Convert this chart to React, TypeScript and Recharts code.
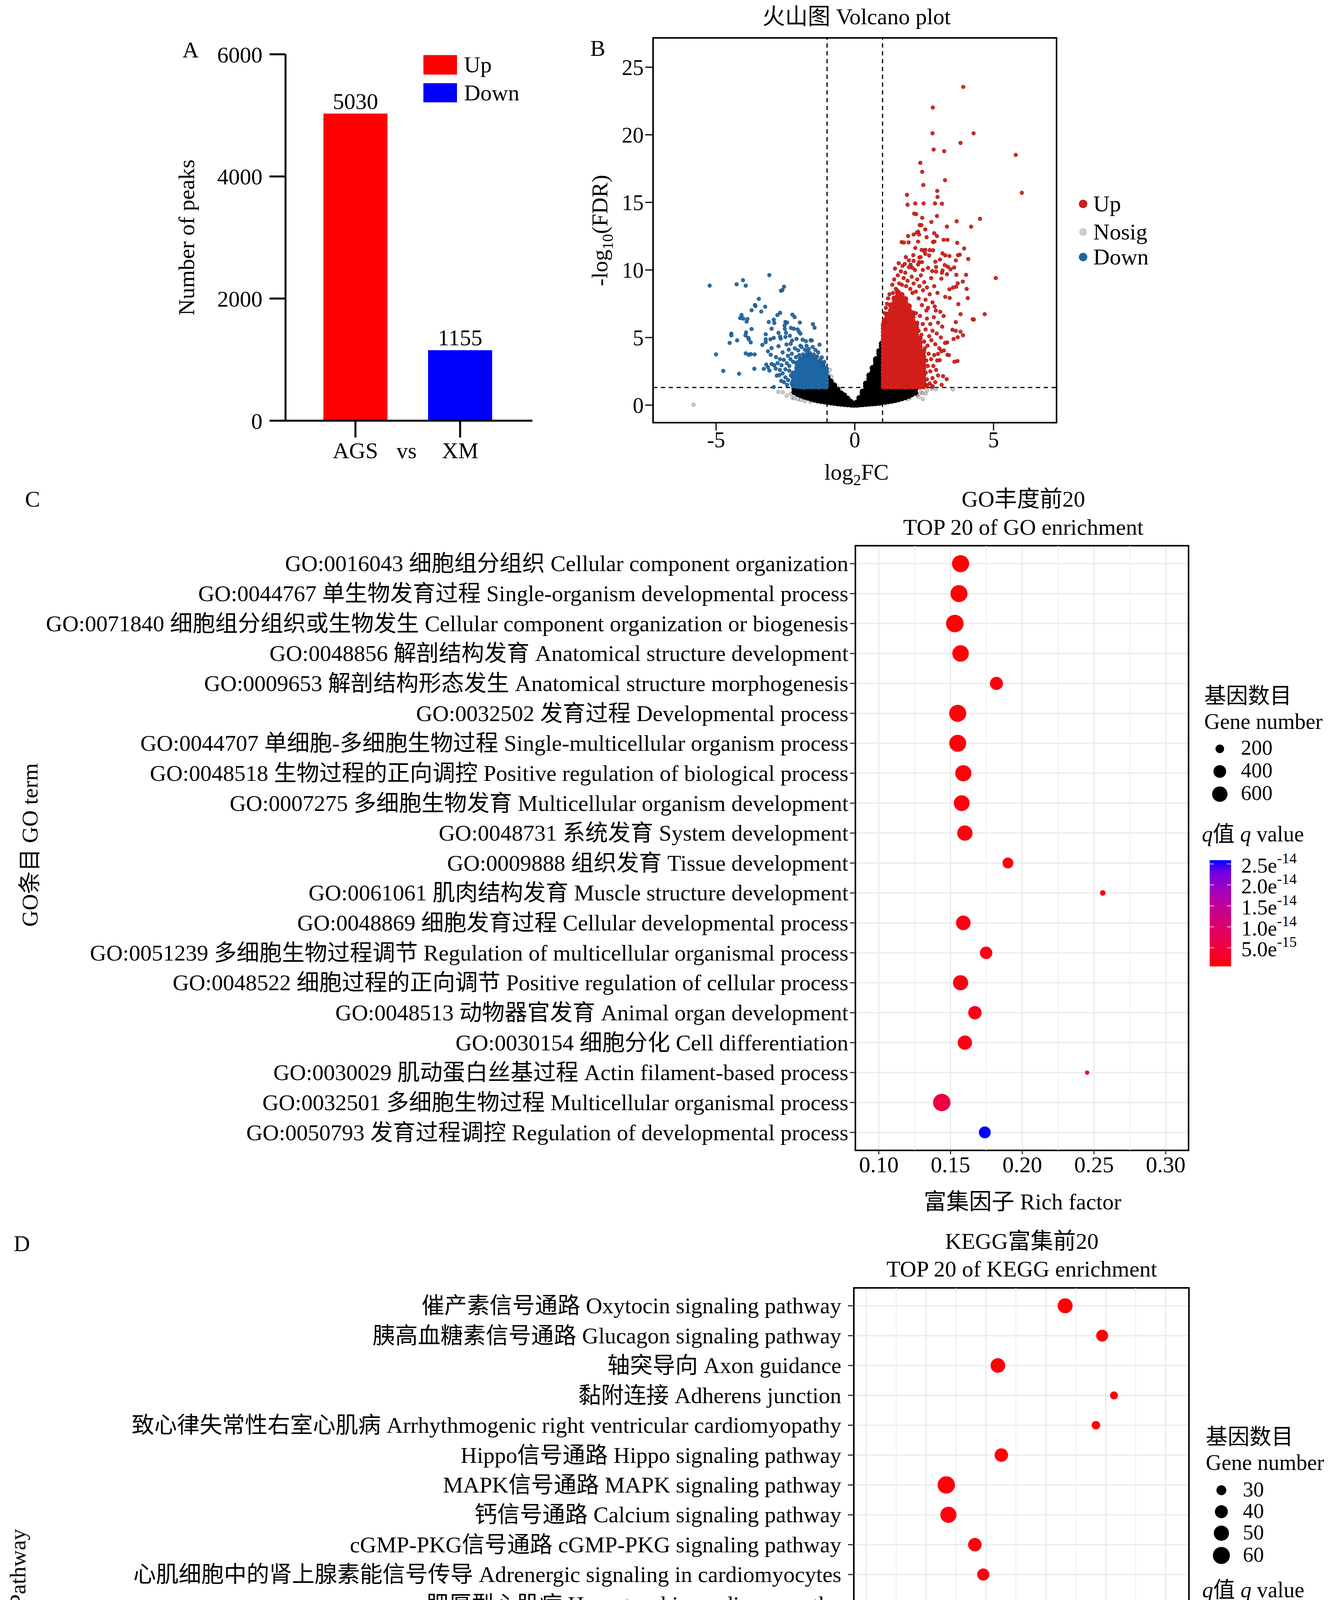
import React from 'react';
import {
  Bar,
  BarChart,
  CartesianGrid,
  Cell,
  LabelList,
  ReferenceArea,
  ReferenceLine,
  Scatter,
  ScatterChart,
  XAxis,
  YAxis,
} from 'recharts';

const FONT = '"Liberation Serif", "Times New Roman", "Noto Sans CJK SC", serif';

// ---------- A: number of peaks
const PEAK_GROUPS = ['AGS', 'XM'];
const PEAK_COUNTS = [5030, 1155];
const PEAK_TYPES = ['Up', 'Down'];
const PEAK_TICKS = [0, 2000, 4000, 6000];
const PEAK_COLORS: Record<string, string> = { Up: '#ff0000', Down: '#0000ff' };

// ---------- B: volcano (log2FC, -log10 FDR)
const VOLCANO_X_TICKS = [-5, 0, 5];
const VOLCANO_Y_TICKS = [0, 5, 10, 15, 20, 25];
const FC_CUT = 1;
const FDR_CUT = 1.301;

// dense block of up genes, one column per log2FC value
const UP_CORE: [number, number[]][] = [
  [1.04, [1.37, 1.63, 1.9, 2.18, 2.44, 2.71, 2.97, 3.25, 3.52, 3.78, 4.05, 4.33, 4.6, 4.86, 5.13, 5.4, 5.66, 5.9]],
  [1.17, [1.39, 1.65, 1.92, 2.2, 2.46, 2.73, 3.0, 3.27, 3.53, 3.8, 4.08, 4.35, 4.62, 4.88, 5.15, 5.42, 5.7, 5.96, 6.22, 6.48, 6.7]],
  [1.3, [1.36, 1.62, 1.9, 2.16, 2.43, 2.7, 2.98, 3.24, 3.5, 3.78, 4.05, 4.31, 4.58, 4.85, 5.12, 5.4, 5.66, 5.93, 6.2, 6.46, 6.73, 7.0, 7.38]],
  [1.43, [1.38, 1.64, 1.91, 2.19, 2.45, 2.72, 3.0, 3.26, 3.53, 3.8, 4.06, 4.34, 4.6, 4.87, 5.15, 5.41, 5.68, 5.95, 6.22, 6.5, 6.76, 7.03, 7.3, 7.58, 7.9]],
  [1.56, [1.37, 1.63, 1.9, 2.17, 2.44, 2.7, 2.97, 3.24, 3.51, 3.79, 4.05, 4.32, 4.6, 4.86, 5.13, 5.4, 5.67, 5.94, 6.21, 6.48, 6.75, 7.02, 7.3, 7.56, 7.84, 8.1, 8.32]],
  [1.69, [1.39, 1.66, 1.92, 2.2, 2.47, 2.73, 3.0, 3.28, 3.55, 3.82, 4.1, 4.36, 4.63, 4.9, 5.17, 5.44, 5.71, 5.98, 6.25, 6.52, 6.8, 7.07, 7.34, 7.6, 7.88, 8.15]],
  [1.82, [1.36, 1.63, 1.9, 2.16, 2.43, 2.7, 2.98, 3.25, 3.52, 3.79, 4.06, 4.33, 4.6, 4.87, 5.14, 5.41, 5.68, 5.95, 6.22, 6.5, 6.77, 7.04, 7.31, 7.58, 7.85]],
  [1.95, [1.38, 1.65, 1.92, 2.19, 2.46, 2.73, 3.0, 3.27, 3.54, 3.81, 4.08, 4.35, 4.62, 4.89, 5.16, 5.43, 5.7, 5.97, 6.24, 6.51, 6.78, 7.05, 7.32]],
  [2.08, [1.37, 1.64, 1.91, 2.18, 2.45, 2.72, 2.99, 3.26, 3.53, 3.8, 4.07, 4.34, 4.61, 4.88, 5.15, 5.42, 5.69, 5.96, 6.23, 6.5, 6.8]],
  [2.21, [1.39, 1.66, 1.93, 2.2, 2.47, 2.74, 3.01, 3.28, 3.55, 3.82, 4.09, 4.36, 4.63, 4.9, 5.17, 5.44, 5.71, 5.98]],
  [2.34, [1.36, 1.63, 1.9, 2.17, 2.44, 2.71, 2.98, 3.25, 3.52, 3.79, 4.06, 4.33, 4.6, 4.92]],
  [2.47, [1.38, 1.65, 1.92, 2.19, 2.46, 2.73, 3.0, 3.3, 3.6, 3.95]],
];

const UP_SPARSE: [number, number][] = [
  [3.91, 23.54], [2.81, 22.02], [2.8, 20.11], [4.28, 20.11],
  [3.81, 19.4], [2.84, 18.91], [3.22, 18.79], [5.8, 18.51], [2.36, 17.93], [2.43, 17.26], [3.25, 16.64], [2.47, 16.29],
  [2.97, 15.85], [6.02, 15.71], [2.98, 15.4], [1.88, 15.56], [1.9, 14.83], [2.18, 14.92], [2.48, 14.92], [2.89, 14.92],
  [3.14, 14.9], [2.14, 14.17], [2.21, 14.13], [2.43, 13.86], [2.96, 13.99], [2.76, 13.55], [3.67, 13.6], [4.51, 13.78],
  [4.19, 13.2], [3.32, 13.21], [2.34, 13.32], [2.4, 13.32], [2.54, 13.0], [2.28, 12.83], [2.24, 12.77], [2.32, 12.62],
  [2.12, 12.62], [1.92, 12.51], [2.59, 12.42], [2.86, 12.72], [2.96, 12.51], [3.2, 12.23], [3.34, 12.23], [3.69, 12.01],
  [1.69, 12.06], [1.77, 12.03], [1.94, 12.04], [2.28, 12.1], [2.82, 12.07], [2.87, 12.1], [3.94, 11.59], [2.18, 11.63],
  [2.41, 11.49], [2.54, 11.49], [2.7, 11.47], [2.82, 11.46], [2.5, 11.4], [3.16, 11.22], [3.26, 11.08], [3.41, 11.03],
  [3.72, 11.09], [3.78, 11.13], [4.09, 10.81], [1.84, 10.95], [2.11, 11.09], [2.33, 10.93], [2.37, 10.95], [2.54, 11.19],
  [2.68, 11.07], [1.95, 10.71], [2.12, 10.67], [2.32, 10.59], [2.42, 10.58], [2.9, 10.61], [3.07, 10.77], [3.64, 10.71],
  [1.8, 10.44], [2.01, 10.39], [2.08, 10.15], [2.64, 10.15], [2.93, 10.22], [3.24, 10.36], [3.35, 10.24], [3.45, 10.05],
  [3.58, 10.18], [3.16, 9.96], [3.14, 9.79], [4.01, 9.64], [3.66, 9.64], [3.32, 9.68], [3.12, 9.35], [2.79, 9.92],
  [2.93, 9.88], [3.89, 9.14], [3.71, 9.01], [3.65, 8.76], [3.54, 8.7], [3.41, 8.57], [4.03, 8.6], [4.07, 7.92],
  [3.26, 8.01], [3.42, 7.93], [3.73, 7.47], [5.08, 9.4], [4.68, 6.73], [4.25, 6.35], [4.29, 6.33], [3.81, 6.73],
  [3.64, 6.14], [3.52, 5.57], [3.64, 5.5], [3.81, 5.43], [3.9, 5.17], [3.71, 5.02], [3.56, 4.89], [3.33, 4.63],
  [3.59, 3.21], [3.7, 3.26], [3.31, 1.92], [3.18, 2.14], [3.13, 1.5], [2.8, 1.4], [3.06, 3.32], [3.34, 3.72],
  [3.39, 3.7], [3.21, 4.04], [3.12, 3.99], [3.0, 3.79],
  [1.35, 8.9], [1.42, 9.3], [1.48, 8.6], [1.55, 9.6], [1.6, 9.0], [1.66, 9.9], [1.7, 8.9], [1.76, 9.4], [1.82, 9.8],
  [1.85, 8.8], [1.9, 9.2], [1.95, 10.2], [2.0, 8.6], [2.05, 9.5], [2.08, 8.3], [2.12, 9.0], [2.17, 10.0], [2.2, 8.4],
  [2.25, 9.3], [2.3, 7.9], [2.33, 8.8], [2.38, 9.6], [2.42, 7.4], [2.46, 8.5], [2.5, 9.1], [2.55, 7.8], [2.6, 8.7],
  [2.64, 7.2], [2.7, 8.2], [2.75, 9.4], [2.8, 7.6], [2.86, 8.8], [2.92, 7.0], [2.98, 8.3], [1.45, 10.1], [1.58, 10.5],
  [1.72, 10.3], [2.28, 10.4], [2.45, 10.0], [1.38, 8.3], [1.52, 8.5],
  [2.2, 6.8], [2.25, 6.1], [2.3, 5.5], [2.35, 6.6], [2.4, 5.2], [2.45, 6.0], [2.5, 4.7], [2.55, 5.6], [2.6, 6.4],
  [2.62, 4.4], [2.68, 5.1], [2.72, 6.0], [2.76, 4.8], [2.8, 5.5], [2.85, 6.5], [2.9, 4.5], [2.95, 5.3], [3.0, 6.1],
  [3.05, 4.2], [3.1, 5.0], [3.15, 5.8], [3.2, 6.6], [3.25, 4.6], [2.58, 7.0], [2.88, 7.3], [3.08, 6.9],
  [2.55, 1.5], [2.56, 2.4], [2.58, 3.3], [2.6, 1.9], [2.63, 2.9], [2.66, 3.8], [2.7, 1.6], [2.72, 2.5], [2.75, 3.4],
  [2.8, 2.0], [2.83, 2.9], [2.86, 3.7], [2.9, 1.7], [2.93, 2.6], [2.97, 3.3], [3.0, 2.2], [2.52, 4.2], [2.6, 1.45],
  [2.78, 1.35], [1.05, 6.3], [1.08, 6.8], [1.12, 7.2], [1.16, 7.5], [1.2, 7.9], [1.25, 8.2], [1.1, 6.1], [1.03, 6.1],
];

const DOWN_CORE: [number, number[]][] = [
  [-1.04, [1.37, 1.64, 1.91, 2.18, 2.45, 2.7]],
  [-1.17, [1.39, 1.66, 1.93, 2.2, 2.47, 2.74, 2.95]],
  [-1.3, [1.36, 1.63, 1.9, 2.17, 2.44, 2.71, 2.98, 3.15]],
  [-1.43, [1.38, 1.65, 1.92, 2.19, 2.46, 2.73, 3.0, 3.3]],
  [-1.56, [1.37, 1.64, 1.91, 2.18, 2.45, 2.72, 2.99, 3.26, 3.5]],
  [-1.69, [1.39, 1.66, 1.93, 2.2, 2.47, 2.74, 3.01, 3.28, 3.6]],
  [-1.82, [1.36, 1.63, 1.9, 2.17, 2.44, 2.71, 2.98, 3.25, 3.55]],
  [-1.95, [1.38, 1.65, 1.92, 2.19, 2.46, 2.73, 3.0, 3.38]],
  [-2.08, [1.4, 1.67, 1.94, 2.21, 2.48, 2.75, 3.1]],
  [-2.21, [1.45, 1.75, 2.05, 2.35]],
];

const DOWN_SPARSE: [number, number][] = [
  [-5.23, 8.84], [-4.26, 8.94], [-4.03, 9.24], [-3.93, 8.84], [-3.08, 9.62], [-2.66, 8.46], [-2.61, 8.51], [-2.55, 8.76],
  [-3.46, 7.86], [-3.6, 7.41], [-3.58, 7.33], [-3.23, 7.28], [-3.72, 7.02], [-3.37, 6.92], [-4.08, 6.66], [-4.13, 6.44],
  [-4.02, 6.4], [-3.87, 6.37], [-3.9, 6.18], [-3.72, 5.63], [-3.92, 5.38], [-3.94, 5.16], [-4.45, 5.28], [-4.45, 5.16],
  [-4.24, 4.79], [-3.84, 4.97], [-3.82, 4.87], [-3.75, 4.64], [-4.51, 4.6], [-5.0, 3.75], [-3.93, 3.83], [-3.82, 3.72],
  [-3.75, 3.77], [-3.61, 3.75], [-4.74, 2.53], [-4.17, 2.32], [-3.62, 2.69], [-3.28, 2.68], [-2.92, 1.34], [-2.79, 6.66],
  [-2.69, 6.83], [-2.25, 6.69], [-2.17, 6.51], [-1.98, 6.11], [-1.51, 5.99], [-1.45, 5.72], [-3.1, 6.15], [-2.92, 6.32],
  [-2.9, 6.08], [-3.0, 5.65], [-3.21, 5.24], [-3.21, 4.87], [-3.21, 4.66], [-3.04, 4.87], [-2.92, 4.97], [-3.33, 4.46],
  [-2.5, 6.15], [-2.44, 6.11], [-2.53, 5.89], [-2.52, 5.64], [-2.3, 5.71], [-2.2, 5.65], [-2.06, 5.6], [-2.01, 5.42],
  [-1.96, 5.29], [-2.75, 5.35], [-2.69, 5.06], [-2.48, 5.35], [-2.34, 5.13], [-2.67, 4.92], [-2.5, 5.04], [-2.26, 4.78],
  [-2.1, 4.9], [-1.88, 4.84], [-1.76, 4.73], [-1.59, 4.8], [-1.55, 4.78], [-1.27, 4.47], [-1.42, 4.08], [-1.74, 4.39],
  [-1.96, 4.39], [-2.31, 4.54], [-2.46, 4.49], [-2.75, 4.36], [-3.0, 4.22], [-3.13, 3.98], [-3.03, 3.72], [-2.84, 3.55],
  [-3.19, 3.0], [-3.0, 3.04], [-2.91, 2.95], [-3.13, 2.8], [-3.08, 2.56], [-2.81, 2.18], [-2.65, 1.79], [-2.72, 2.22],
  [-1.19, 3.53], [-1.24, 3.24], [-1.13, 3.04],
  [-1.25, 3.35], [-1.32, 3.9], [-1.36, 3.6], [-1.48, 3.75], [-1.52, 4.3], [-1.62, 3.85], [-1.66, 4.15], [-1.72, 3.9],
  [-1.8, 4.1], [-1.86, 3.75], [-1.92, 4.3], [-2.0, 3.7], [-2.04, 4.05], [-2.12, 3.55], [-2.16, 4.2], [-2.22, 3.2],
  [-2.27, 3.8], [-2.32, 3.4], [-2.36, 2.9], [-2.41, 3.65], [-2.45, 3.1], [-2.5, 2.65], [-2.56, 3.35], [-2.6, 2.35],
  [-2.64, 2.95], [-2.3, 2.2], [-2.4, 1.85], [-2.5, 2.05], [-2.28, 1.6], [-2.36, 2.55], [-2.44, 1.5], [-2.55, 1.7],
  [-2.7, 2.6], [-2.78, 3.1], [-2.85, 2.7], [-1.1, 3.2], [-1.16, 2.95], [-1.42, 3.55], [-1.58, 3.7], [-1.75, 3.65],
  [-2.6, 3.9], [-2.7, 3.4], [-2.38, 4.1],
];

const NOSIG_CORE: [number, number[]][] = [
  [-2.18, [0.95, 1.2]],
  [-2.06, [0.82, 1.08]],
  [-1.94, [0.72, 0.98, 1.24]],
  [-1.82, [0.62, 0.88, 1.14]],
  [-1.7, [0.55, 0.8, 1.06, 1.28]],
  [-1.58, [0.47, 0.73, 0.99, 1.25]],
  [-1.46, [0.4, 0.66, 0.92, 1.18]],
  [-1.34, [0.34, 0.6, 0.86, 1.12, 1.28]],
  [-1.22, [0.3, 0.56, 0.82, 1.08, 1.27]],
  [-1.1, [0.26, 0.52, 0.78, 1.04, 1.26]],
  [-0.98, [0.22, 0.48, 0.74, 1.0, 1.26, 1.52, 1.78, 2.05]],
  [-0.86, [0.19, 0.45, 0.71, 0.97, 1.23, 1.49, 1.75]],
  [-0.74, [0.16, 0.42, 0.68, 0.94, 1.2, 1.46]],
  [-0.62, [0.12, 0.38, 0.64, 0.9, 1.16]],
  [-0.5, [0.1, 0.34, 0.6, 0.88]],
  [-0.38, [0.07, 0.3, 0.55, 0.72]],
  [-0.26, [0.05, 0.27, 0.48]],
  [-0.14, [0.03, 0.24]],
  [-0.04, [0.02, 0.1]],
  [0.06, [0.02, 0.18]],
  [0.16, [0.04, 0.28, 0.52]],
  [0.28, [0.06, 0.32, 0.58, 0.84, 1.0]],
  [0.4, [0.08, 0.34, 0.6, 0.86, 1.12, 1.38, 1.6]],
  [0.52, [0.1, 0.36, 0.62, 0.88, 1.14, 1.4, 1.66, 1.92, 2.2]],
  [0.64, [0.12, 0.38, 0.64, 0.9, 1.16, 1.42, 1.68, 1.94, 2.2, 2.46, 2.75]],
  [0.76, [0.14, 0.4, 0.66, 0.92, 1.18, 1.44, 1.7, 1.96, 2.22, 2.48, 2.74, 3.0, 3.26, 3.4]],
  [0.88, [0.17, 0.43, 0.69, 0.95, 1.21, 1.47, 1.73, 1.99, 2.25, 2.51, 2.77, 3.03, 3.29, 3.55, 3.81, 4.0]],
  [0.97, [0.2, 0.46, 0.72, 0.98, 1.24, 1.5, 1.76, 2.02, 2.28, 2.54, 2.8, 3.06, 3.32, 3.58, 3.84, 4.1, 4.36, 4.55]],
  [1.1, [0.24, 0.5, 0.76, 1.02, 1.26]],
  [1.22, [0.28, 0.54, 0.8, 1.06, 1.28]],
  [1.34, [0.32, 0.58, 0.84, 1.1]],
  [1.46, [0.37, 0.63, 0.89, 1.15]],
  [1.58, [0.43, 0.69, 0.95, 1.2]],
  [1.7, [0.5, 0.76, 1.02, 1.26]],
  [1.82, [0.58, 0.84, 1.1]],
  [1.94, [0.68, 0.94, 1.2]],
  [2.06, [0.8, 1.06]],
  [2.18, [0.92, 1.18]],
];

const NOSIG_EDGE: [number, number][] = [
  [-5.81, 0.02], [-2.76, 0.98], [-2.6, 0.95], [-2.45, 0.7], [-2.3, 0.85], [-2.25, 0.55], [-2.18, 0.5], [-2.05, 0.45],
  [-1.95, 0.38], [-1.8, 0.3], [-1.75, 0.5], [-1.6, 0.25], [-0.95, 2.3], [-0.9, 2.6], [-0.85, 2.1], [2.3, 0.6],
  [2.38, 0.95], [2.45, 0.45], [2.25, 0.75], [2.55, 0.85], [2.6, 1.1], [2.77, 1.2], [2.92, 1.18], [3.54, 1.17],
  [2.43, 0.88], [2.23, 0.82], [2.0, 0.55], [1.9, 0.45],
];

// ---------- C: GO top 20
const GO_TERMS = [
  'GO:0016043 细胞组分组织 Cellular component organization',
  'GO:0044767 单生物发育过程 Single-organism developmental process',
  'GO:0071840 细胞组分组织或生物发生 Cellular component organization or biogenesis',
  'GO:0048856 解剖结构发育 Anatomical structure development',
  'GO:0009653 解剖结构形态发生 Anatomical structure morphogenesis',
  'GO:0032502 发育过程 Developmental process',
  'GO:0044707 单细胞-多细胞生物过程 Single-multicellular organism process',
  'GO:0048518 生物过程的正向调控 Positive regulation of biological process',
  'GO:0007275 多细胞生物发育 Multicellular organism development',
  'GO:0048731 系统发育 System development',
  'GO:0009888 组织发育 Tissue development',
  'GO:0061061 肌肉结构发育 Muscle structure development',
  'GO:0048869 细胞发育过程 Cellular developmental process',
  'GO:0051239 多细胞生物过程调节 Regulation of multicellular organismal process',
  'GO:0048522 细胞过程的正向调节 Positive regulation of cellular process',
  'GO:0048513 动物器官发育 Animal organ development',
  'GO:0030154 细胞分化 Cell differentiation',
  'GO:0030029 肌动蛋白丝基过程 Actin filament-based process',
  'GO:0032501 多细胞生物过程 Multicellular organismal process',
  'GO:0050793 发育过程调控 Regulation of developmental process',
];
const GO_RICH = [0.157, 0.1559, 0.153, 0.157, 0.182, 0.155, 0.155, 0.1589, 0.1578, 0.16,
  0.19, 0.2561, 0.1589, 0.1748, 0.157, 0.167, 0.16, 0.2452, 0.1439, 0.1739];
const GO_GENES = [756, 748, 802, 698, 424, 751, 744, 669, 641, 590, 295, 136, 537, 383, 583, 445, 513, 129, 787, 346];
const GO_Q = [5.6e-16, 6.2e-16, 7.5e-16, 6.8e-16, 9.1e-16, 8.3e-16, 9.8e-16, 1.05e-15, 1.1e-15, 1.2e-15,
  1.3e-15, 1.5e-15, 1.35e-15, 1.6e-15, 1.4e-15, 1.7e-15, 1.45e-15, 1.8e-15, 5.6e-15, 2.59e-14];
const GO_X_TICKS = [0.1, 0.15, 0.2, 0.25, 0.3];
const GO_X_MINOR = [0.125, 0.175, 0.225, 0.275];
const GO_SIZE_BREAKS = [200, 400, 600];
const GO_Q_BREAKS = [2.5e-14, 2.0e-14, 1.5e-14, 1.0e-14, 5.0e-15];
const GO_Q_LABELS: [string, string][] = [['2.5e', '-14'], ['2.0e', '-14'], ['1.5e', '-14'], ['1.0e', '-14'], ['5.0e', '-15']];

// ---------- D: KEGG top 20
const KEGG_TERMS = [
  '催产素信号通路 Oxytocin signaling pathway',
  '胰高血糖素信号通路 Glucagon signaling pathway',
  '轴突导向 Axon guidance',
  '黏附连接 Adherens junction',
  '致心律失常性右室心肌病 Arrhythmogenic right ventricular cardiomyopathy',
  'Hippo信号通路 Hippo signaling pathway',
  'MAPK信号通路 MAPK signaling pathway',
  '钙信号通路 Calcium signaling pathway',
  'cGMP-PKG信号通路 cGMP-PKG signaling pathway',
  '心肌细胞中的肾上腺素能信号传导 Adrenergic signaling in cardiomyocytes',
  '肥厚型心肌病 Hypertrophic cardiomyopathy',
  'Wnt信号通路 Wnt signaling pathway',
  '扩张型心肌病 Dilated cardiomyopathy',
  '胃酸分泌 Gastric acid secretion',
  '内吞作用 Endocytosis',
  '甲状旁腺激素的合成、分泌和作用 Parathyroid hormone synthesis, secretion and action',
  '醛固酮合成与分泌 Aldosterone synthesis and secretion',
  '肌动蛋白细胞骨架的调控 Regulation of actin cytoskeleton',
  'Rap1信号通路 Rap1 signaling pathway',
  '阿片肽信号通路 Apelin signaling pathway',
];
const KEGG_RICH = [0.3161, 0.347, 0.2599, 0.3569, 0.3418, 0.2628, 0.2168, 0.2186, 0.2407, 0.2477,
  0.2828, 0.2316, 0.2727, 0.2927, 0.2017, 0.2568, 0.2628, 0.2066, 0.2056, 0.2287];
const KEGG_GENES = [49, 36, 47, 26, 27, 42, 62, 55, 42, 37, 27, 39, 27, 23, 50, 27, 26, 44, 46, 33];
const KEGG_Q = [1.2e-6, 3.4e-6, 4.6e-6, 6.5e-6, 8.8e-6, 1.1e-5, 1.3e-5, 1.6e-5, 2.2e-5, 2.9e-5,
  9.5e-5, 9.9e-5, 1.37e-4, 2.2e-4, 3.4e-4, 3.8e-4, 5.0e-4, 5.5e-4, 5.8e-4, 7.62e-4];
const KEGG_X_TICKS = [0.15, 0.2, 0.25, 0.3, 0.35, 0.4];
const KEGG_X_MINOR = [0.175, 0.225, 0.275, 0.325, 0.375];
const KEGG_SIZE_BREAKS = [30, 40, 50, 60];
const KEGG_Q_BREAKS = [6e-4, 4e-4, 2e-4];
const KEGG_Q_LABELS: [string, string][] = [['6e', '-04'], ['4e', '-04'], ['2e', '-04']];

const ROW_TICKS = Array.from({ length: 20 }, (_, i) => i + 1);

// ---------- colour / size helpers (ggplot-like red -> blue gradient in Lab)
const toLin = (c: number) => {
  const v = c / 255;
  return v <= 0.04045 ? v / 12.92 : Math.pow((v + 0.055) / 1.055, 2.4);
};
const fromLin = (c: number) => {
  const v = c <= 0.0031308 ? 12.92 * c : 1.055 * Math.pow(Math.max(c, 0), 1 / 2.4) - 0.055;
  return Math.round(Math.max(0, Math.min(1, v)) * 255);
};
const rgbToLab = ([r, g, b]: number[]) => {
  const R = toLin(r), G = toLin(g), B = toLin(b);
  const X = (0.4124 * R + 0.3576 * G + 0.1805 * B) / 0.95047;
  const Y = 0.2126 * R + 0.7152 * G + 0.0722 * B;
  const Z = (0.0193 * R + 0.1192 * G + 0.9505 * B) / 1.08883;
  const f = (t: number) => (t > 0.008856 ? Math.cbrt(t) : 7.787 * t + 16 / 116);
  const fx = f(X), fy = f(Y), fz = f(Z);
  return [116 * fy - 16, 500 * (fx - fy), 200 * (fy - fz)];
};
const labToRgb = ([L, a, b]: number[]) => {
  const fy = (L + 16) / 116, fx = fy + a / 500, fz = fy - b / 200;
  const inv = (t: number) => (t * t * t > 0.008856 ? t * t * t : (t - 16 / 116) / 7.787);
  const X = inv(fx) * 0.95047, Y = inv(fy), Z = inv(fz) * 1.08883;
  const R = 3.2406 * X - 1.5372 * Y - 0.4986 * Z;
  const G = -0.9689 * X + 1.8758 * Y + 0.0415 * Z;
  const B = 0.0557 * X - 0.204 * Y + 1.057 * Z;
  return `rgb(${fromLin(R)},${fromLin(G)},${fromLin(B)})`;
};
const LAB_LOW = rgbToLab([255, 0, 0]);
const LAB_HIGH = rgbToLab([0, 0, 255]);
const gradient = (t: number) => {
  const u = Math.max(0, Math.min(1, t));
  return labToRgb(LAB_LOW.map((v, i) => v + (LAB_HIGH[i] - v) * u));
};
const GRAD_STOPS = [0, 0.1, 0.2, 0.3, 0.4, 0.5, 0.6, 0.7, 0.8, 0.9, 1];

const makeSize = (vals: number[], dMin: number, dMax: number) => {
  const lo = Math.min(...vals), hi = Math.max(...vals);
  return (v: number) => dMin + (dMax - dMin) * Math.sqrt(Math.max(0, Math.min(1, (v - lo) / (hi - lo))));
};
const goSize = makeSize(GO_GENES, 11, 45);
const keggSize = makeSize(KEGG_GENES, 11.2, 44.6);
const GO_QMIN = Math.min(...GO_Q), GO_QMAX = Math.max(...GO_Q);
const KEGG_QMIN = Math.min(...KEGG_Q), KEGG_QMAX = Math.max(...KEGG_Q);

const peakData = PEAK_GROUPS.map((name, i) => ({ name, value: PEAK_COUNTS[i], type: PEAK_TYPES[i] }));
const cols = (c: [number, number[]][]) => c.flatMap(([x, ys]) => ys.map((y) => ({ x, y })));
const pairs = (p: [number, number][]) => p.map(([x, y]) => ({ x, y }));

const goData = GO_TERMS.map((label, i) => ({ y: 20 - i, x: GO_RICH[i], genes: GO_GENES[i], q: GO_Q[i], label }));
const keggData = KEGG_TERMS.map((label, i) => ({ y: 20 - i, x: KEGG_RICH[i], genes: KEGG_GENES[i], q: KEGG_Q[i], label }));

const axisText = { fill: '#000', fontSize: 58, fontFamily: FONT };

const UP_FILL = '#d21f1b';
const UP_EDGE = '#a51511';
const DOWN_FILL = '#1f67a3';
const DOWN_EDGE = '#174f80';

const PeaksChart = () => (
  <BarChart width={1050} height={1150} data={peakData} margin={{ top: 79, right: 87, left: 131, bottom: 33 }}>
    <XAxis
      dataKey='name'
      padding={{ left: 45, right: 51 }}
      height={100}
      tickSize={43}
      tickMargin={12}
      axisLine={{ stroke: '#000', strokeWidth: 5 }}
      tickLine={{ stroke: '#000', strokeWidth: 5 }}
      tick={axisText}
    />
    <YAxis
      width={200}
      domain={[0, 6000]}
      ticks={PEAK_TICKS}
      tickSize={41}
      tickMargin={18}
      axisLine={{ stroke: '#000', strokeWidth: 5 }}
      tickLine={{ stroke: '#000', strokeWidth: 5 }}
      tick={axisText}
    />
    <Bar dataKey='value' barSize={164} isAnimationActive={false}>
      {peakData.map((d) => (
        <Cell key={d.name} fill={PEAK_COLORS[d.type]} />
      ))}
      <LabelList dataKey='value' position='top' offset={12} fill='#000' fontSize={58} fontFamily={FONT} />
    </Bar>
  </BarChart>
);

const dot = (fill: string, stroke: string, opacity: number, r: number) => (p: any) => (
  <circle cx={p.cx} cy={p.cy} r={r} fill={fill} fillOpacity={opacity} stroke={stroke} strokeWidth={1.3} />
);

const VolcanoChart = () => (
  <ScatterChart width={1300} height={1250} margin={{ top: 97, right: 45, left: 122, bottom: 68 }}>
    <XAxis
      type='number'
      dataKey='x'
      domain={[-7.27, 7.27]}
      ticks={VOLCANO_X_TICKS}
      allowDataOverflow
      height={100}
      axisLine={false}
      tickSize={20}
      tickMargin={3}
      tickLine={{ stroke: '#000', strokeWidth: 3 }}
      tick={{ ...axisText, fontSize: 56 }}
    />
    <YAxis
      type='number'
      dataKey='y'
      domain={[-1.3, 27.17]}
      ticks={VOLCANO_Y_TICKS}
      allowDataOverflow
      width={100}
      axisLine={false}
      tickSize={20}
      tickMargin={4}
      tickLine={{ stroke: '#000', strokeWidth: 3 }}
      tick={{ ...axisText, fontSize: 56 }}
    />
    <Scatter name='Nosig' data={pairs(NOSIG_EDGE)} shape={dot('#9a9a9a', 'rgba(60,60,60,0.5)', 0.45, 4.6)} isAnimationActive={false} />
    <Scatter name='Nosig' data={cols(NOSIG_CORE)} shape={dot('#000', '#000', 1, 6.8)} isAnimationActive={false} />
    <Scatter name='Down' data={cols(DOWN_CORE)} shape={dot(DOWN_FILL, DOWN_FILL, 1, 6.8)} isAnimationActive={false} />
    <Scatter name='Down' data={pairs(DOWN_SPARSE)} shape={dot(DOWN_FILL, DOWN_EDGE, 0.95, 4.6)} isAnimationActive={false} />
    <Scatter name='Up' data={cols(UP_CORE)} shape={dot(UP_FILL, UP_FILL, 1, 6.8)} isAnimationActive={false} />
    <Scatter name='Up' data={pairs(UP_SPARSE)} shape={dot(UP_FILL, UP_EDGE, 0.95, 4.6)} isAnimationActive={false} />
    <ReferenceLine x={-FC_CUT} stroke='#000' strokeWidth={3} strokeDasharray='11 9' />
    <ReferenceLine x={FC_CUT} stroke='#000' strokeWidth={3} strokeDasharray='11 9' />
    <ReferenceLine y={FDR_CUT} stroke='#000' strokeWidth={3} strokeDasharray='11 9' />
    <ReferenceArea x1={-7.27} x2={7.27} y1={-1.3} y2={27.17} fill='none' stroke='#000' strokeWidth={4} ifOverflow='visible' />
  </ScatterChart>
);

const TermTick = ({ x, y, payload, labels }: any) => (
  <text x={x} y={y} textAnchor='end' dominantBaseline='central' fontSize={58} fontFamily={FONT} fill='#000'>
    {labels[20 - payload.value]}
  </text>
);

type EnrichProps = {
  data: any[];
  labels: string[];
  domain: [number, number];
  ticks: number[];
  minor: number[];
  size: (v: number) => number;
  qmin: number;
  qmax: number;
  height: number;
  margin: { top: number; right: number; left: number; bottom: number };
  tickSize: number;
  tickMargin: number;
};

const EnrichChart = ({ data, labels, domain, ticks, minor, size, qmin, qmax, height, margin, tickSize, tickMargin }: EnrichProps) => (
  <ScatterChart width={3060} height={height} margin={margin}>
    <CartesianGrid stroke='#ebebeb' strokeWidth={3.2} />
    {minor.map((m) => (
      <ReferenceLine key={m} x={m} stroke='#ebebeb' strokeWidth={1.8} />
    ))}
    <XAxis
      type='number'
      dataKey='x'
      domain={domain}
      ticks={ticks}
      interval={0}
      allowDataOverflow
      height={100}
      axisLine={false}
      tickSize={10}
      tickMargin={5}
      tickLine={{ stroke: '#333', strokeWidth: 3 }}
      tickFormatter={(v: number) => v.toFixed(2)}
      tick={axisText}
    />
    <YAxis
      type='number'
      dataKey='y'
      domain={[0.4, 20.6]}
      ticks={ROW_TICKS}
      interval={0}
      allowDataOverflow
      width={2150}
      axisLine={false}
      tickSize={tickSize}
      tickMargin={tickMargin}
      tickLine={{ stroke: '#333', strokeWidth: 3 }}
      tick={(p: any) => <TermTick {...p} labels={labels} />}
    />
    <Scatter
      data={data}
      isAnimationActive={false}
      shape={(p: any) => (
        <circle
          cx={p.cx}
          cy={p.cy}
          r={size(p.payload.genes) / 2}
          fill={gradient((p.payload.q - qmin) / (qmax - qmin))}
        />
      )}
    />
    <ReferenceArea x1={domain[0]} x2={domain[1]} y1={0.4} y2={20.6} fill='none' stroke='#000' strokeWidth={4} ifOverflow='visible' />
  </ScatterChart>
);

const Txt = ({ x, y, children, size = 58, anchor = 'start', rotate }: any) => (
  <text
    x={x}
    y={y}
    fontSize={size}
    fontFamily={FONT}
    textAnchor={anchor}
    fill='#000'
    transform={rotate ? `rotate(${rotate} ${x} ${y})` : undefined}
  >
    {children}
  </text>
);

const SizeLegend = ({ x, titleY, breaks, size, dotYs, labelX, labelDy }: any) => (
  <g>
    <Txt x={x} y={titleY} size={56}>基因数目</Txt>
    <Txt x={x} y={titleY + 66} size={56}>Gene number</Txt>
    {breaks.map((b: number, i: number) => (
      <g key={b}>
        <circle cx={x + 40} cy={dotYs[i]} r={size(b) / 2} fill='#000' />
        <Txt x={labelX} y={dotYs[i] + labelDy} size={54}>{b}</Txt>
      </g>
    ))}
  </g>
);

const ColorLegend = ({ id, x, titleY, barY, breaks, labels, qmin, qmax, labelX, labelDy }: any) => {
  const h = 272;
  const pos = (v: number) => barY + h - ((v - qmin) / (qmax - qmin)) * h;
  return (
    <g>
      <defs>
        <linearGradient id={id} x1='0' y1='1' x2='0' y2='0'>
          {GRAD_STOPS.map((s) => (
            <stop key={s} offset={s} stopColor={gradient(s)} />
          ))}
        </linearGradient>
      </defs>
      <Txt x={x - 20} y={titleY} size={56}>
        <tspan fontStyle='italic'>q</tspan>值 <tspan fontStyle='italic'>q</tspan> value
      </Txt>
      <rect x={x} y={barY} width={55} height={h} fill={`url(#${id})`} />
      {breaks.map((b: number, i: number) => (
        <g key={b}>
          <line x1={x} x2={x + 11} y1={pos(b)} y2={pos(b)} stroke='#fff' strokeWidth={1.5} />
          <line x1={x + 44} x2={x + 55} y1={pos(b)} y2={pos(b)} stroke='#fff' strokeWidth={1.5} />
          <Txt x={labelX} y={pos(b) + labelDy} size={54}>
            {labels[i][0]}
            <tspan dy={-24} fontSize={38}>{labels[i][1]}</tspan>
          </Txt>
        </g>
      ))}
    </g>
  );
};

export default function App() {
  return (
    <div style={{ position: 'relative', margin: -8, width: 3400, height: 5006, background: '#fff', overflow: 'hidden' }}>
      <div style={{ position: 'absolute', left: 400, top: 60 }}>
        <PeaksChart />
      </div>
      <div style={{ position: 'absolute', left: 1450, top: 0 }}>
        <VolcanoChart />
      </div>
      <div style={{ position: 'absolute', left: 0, top: 1330 }}>
        <EnrichChart
          data={goData}
          labels={GO_TERMS}
          domain={[0.0837, 0.3159]}
          ticks={GO_X_TICKS}
          minor={GO_X_MINOR}
          size={goSize}
          qmin={GO_QMIN}
          qmax={GO_QMAX}
          height={1800}
          margin={{ top: 67, right: 17, left: 40, bottom: 85 }}
          tickSize={14}
          tickMargin={4}
        />
      </div>
      <div style={{ position: 'absolute', left: 0, top: 3230 }}>
        <EnrichChart
          data={keggData}
          labels={KEGG_TERMS}
          domain={[0.1396, 0.4195]}
          ticks={KEGG_X_TICKS}
          minor={KEGG_X_MINOR}
          size={keggSize}
          qmin={KEGG_QMIN}
          qmax={KEGG_QMAX}
          height={1776}
          margin={{ top: 67, right: 16, left: 36, bottom: 65 }}
          tickSize={15}
          tickMargin={17}
        />
      </div>

      <svg width={3400} height={5006} style={{ position: 'absolute', left: 0, top: 0, pointerEvents: 'none' }}>
        {/* A */}
        <Txt x={467} y={147}>A</Txt>
        <Txt x={497} y={608} anchor='middle' rotate={-90}>Number of peaks</Txt>
        <Txt x={1041} y={1173} anchor='middle'>vs</Txt>
        <rect x={1084} y={141} width={86} height={50} fill={PEAK_COLORS.Up} />
        <rect x={1084} y={213} width={86} height={49} fill={PEAK_COLORS.Down} />
        <Txt x={1188} y={185}>{PEAK_TYPES[0]}</Txt>
        <Txt x={1188} y={257}>{PEAK_TYPES[1]}</Txt>

        {/* B */}
        <Txt x={1511} y={143}>B</Txt>
        <Txt x={2193} y={62} anchor='middle'>火山图 Volcano plot</Txt>
        <Txt x={1555} y={590} anchor='middle' rotate={-90}>
          -log<tspan dy={14} fontSize={40}>10</tspan>
          <tspan dy={-14}>(FDR)</tspan>
        </Txt>
        <Txt x={2193} y={1228} anchor='middle'>
          log<tspan dy={14} fontSize={40}>2</tspan>
          <tspan dy={-14}>FC</tspan>
        </Txt>
        <circle cx={2773} cy={522} r={10} fill={UP_FILL} stroke={UP_EDGE} strokeWidth={1.5} />
        <circle cx={2773} cy={594} r={10} fill='#cccccc' />
        <circle cx={2773} cy={658} r={10} fill={DOWN_FILL} stroke={DOWN_EDGE} strokeWidth={1.5} />
        <Txt x={2799} y={541}>Up</Txt>
        <Txt x={2799} y={613}>Nosig</Txt>
        <Txt x={2799} y={677}>Down</Txt>

        {/* C */}
        <Txt x={64} y={1297}>C</Txt>
        <Txt x={2620} y={1297} anchor='middle'>GO丰度前20</Txt>
        <Txt x={2620} y={1369} anchor='middle'>TOP 20 of GO enrichment</Txt>
        <Txt x={96} y={2163} anchor='middle' rotate={-90}>GO条目 GO term</Txt>
        <Txt x={2618} y={3096} anchor='middle'>富集因子 Rich factor</Txt>
        <SizeLegend x={3083} titleY={1800} breaks={GO_SIZE_BREAKS} size={goSize} dotYs={[1917, 1975, 2033]} labelX={3177} labelDy={15} />
        <ColorLegend
          id='goGrad'
          x={3097}
          titleY={2154}
          barY={2202}
          breaks={GO_Q_BREAKS}
          labels={GO_Q_LABELS}
          qmin={GO_QMIN}
          qmax={GO_QMAX}
          labelX={3178}
          labelDy={22}
        />

        {/* D */}
        <Txt x={35} y={3203}>D</Txt>
        <Txt x={2616} y={3197} anchor='middle'>KEGG富集前20</Txt>
        <Txt x={2616} y={3268} anchor='middle'>TOP 20 of KEGG enrichment</Txt>
        <Txt x={65} y={4079} anchor='middle' rotate={-90}>通路 Pathway</Txt>
        <Txt x={2616} y={4985} anchor='middle'>富集因子 Rich factor</Txt>
        <SizeLegend x={3087} titleY={3697} breaks={KEGG_SIZE_BREAKS} size={keggSize} dotYs={[3815, 3870, 3925, 3982]} labelX={3182} labelDy={16} />
        <ColorLegend
          id='keggGrad'
          x={3098}
          titleY={4089}
          barY={4127}
          breaks={KEGG_Q_BREAKS}
          labels={KEGG_Q_LABELS}
          qmin={KEGG_QMIN}
          qmax={KEGG_QMAX}
          labelX={3193}
          labelDy={14}
        />
      </svg>
    </div>
  );
}
